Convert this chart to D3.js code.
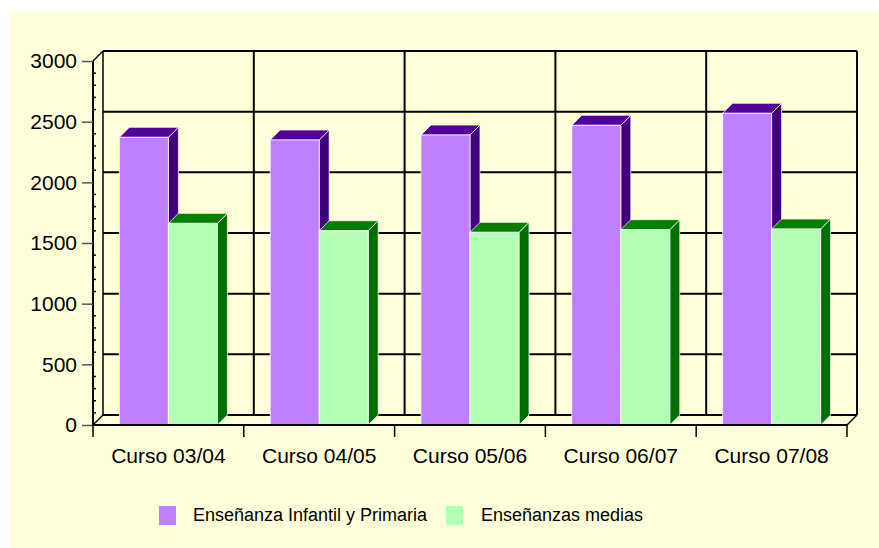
<!DOCTYPE html>
<html>
<head>
<meta charset="utf-8">
<script src="https://cdn.jsdelivr.net/npm/d3@7/dist/d3.min.js"></script>
<style>
  html, body { margin: 0; padding: 0; background: #ffffff; }
  svg { display: block; font-family: "Liberation Sans", Arial, sans-serif; }
</style>
</head>
<body>
<svg id="chart" width="879" height="548"></svg>
<script>
// ---- data ----
const categories = ["Curso 03/04", "Curso 04/05", "Curso 05/06", "Curso 06/07", "Curso 07/08"];
const seriesNames = ["Enseñanza Infantil y Primaria", "Enseñanzas medias"];
const infantilPrimaria = [2371, 2349, 2390, 2470, 2569];
const medias = [1662, 1601, 1588, 1610, 1615];
const yTicks = [0, 500, 1000, 1500, 2000, 2500, 3000];

// ---- styling ----
const frontColors = ["#bf7fff", "#b3ffb3"];
const topColors = ["#52009c", "#007f00"];
const sideColors = ["#3f007a", "#006e00"];
const bgColor = "#ffffd9";

const svg = d3.select("#chart");
const W = 879, H = 548;

svg.append("rect").attr("x", 10).attr("y", 12).attr("width", W - 10).attr("height", H - 12).attr("fill", bgColor);

// plot geometry (front plane) and 3D depth offset
const pLeft = 93, pRight = 847, pBottom = 425, pTop = 61;
const dx = 10, dy = -10;

const y = d3.scaleLinear().domain([0, 3000]).range([pBottom, pTop]);
const x0 = d3.scaleBand().domain(categories).range([pLeft, pRight]).paddingInner(0.35).paddingOuter(0.175);
const x1 = d3.scaleBand().domain(seriesNames).range([0, x0.bandwidth()]);
const xEdges = d3.scaleLinear().domain([0, categories.length]).range([pLeft, pRight]);

const g = svg.append("g");

// back wall gridlines
const grid = g.append("g").attr("stroke", "#000").attr("stroke-width", 2);
yTicks.forEach(t => {
  grid.append("line")
    .attr("x1", pLeft + dx).attr("x2", pRight + dx)
    .attr("y1", y(t) + dy).attr("y2", y(t) + dy);
});
d3.range(0, categories.length + 1).forEach(i => {
  grid.append("line")
    .attr("x1", xEdges(i) + dx).attr("x2", xEdges(i) + dx)
    .attr("y1", y(0) + dy).attr("y2", y(3000) + dy)
    .attr("stroke-width", i === 0 ? 1.5 : 2);
});
// left wall / floor edges
const edges = g.append("g").attr("stroke", "#000").attr("stroke-width", 1.5).attr("fill", "none");
edges.append("line").attr("x1", pLeft).attr("y1", y(3000)).attr("x2", pLeft + dx).attr("y2", y(3000) + dy);
edges.append("line").attr("x1", pLeft).attr("y1", y(0)).attr("x2", pLeft + dx).attr("y2", y(0) + dy);
edges.append("line").attr("x1", pRight).attr("y1", y(0)).attr("x2", pRight + dx).attr("y2", y(0) + dy);

// bars
const seriesValues = [infantilPrimaria, medias];
categories.forEach((c, ci) => {
  seriesNames.forEach((s, si) => {
    const v = seriesValues[si][ci];
    const bx = x0(c) + x1(s);
    const bw = x1.bandwidth();
    const by = y(v), b0 = y(0);
    const bar = g.append("g").attr("stroke", "rgba(255,255,255,0.75)").attr("stroke-width", 1);
    // side face
    bar.append("path").attr("fill", sideColors[si])
      .attr("d", `M${bx + bw},${by} L${bx + bw + dx},${by + dy} L${bx + bw + dx},${b0 + dy} L${bx + bw},${b0} Z`);
    // top face
    bar.append("path").attr("fill", topColors[si])
      .attr("d", `M${bx},${by} L${bx + dx},${by + dy} L${bx + bw + dx},${by + dy} L${bx + bw},${by} Z`);
    // front face
    bar.append("rect").attr("fill", frontColors[si])
      .attr("x", bx).attr("y", by).attr("width", bw).attr("height", b0 - by);
  });
});

// front axis lines
const axes = g.append("g").attr("stroke", "#000");
axes.append("line").attr("x1", pLeft).attr("x2", pLeft).attr("y1", y(3000)).attr("y2", y(0)).attr("stroke-width", 2);
axes.append("line").attr("x1", pLeft).attr("x2", pRight).attr("y1", y(0)).attr("y2", y(0)).attr("stroke-width", 2);

// y axis via d3
const yAxis = d3.axisLeft(y).tickValues(yTicks).tickSize(11).tickPadding(5).tickFormat(d3.format("d"));
const ya = g.append("g").attr("transform", `translate(${pLeft},0)`).call(yAxis);
ya.select(".domain").remove();
ya.selectAll(".tick line").attr("stroke", "#555").attr("stroke-width", 1.5);
ya.selectAll(".tick text").attr("font-size", 21).attr("fill", "#000").attr("font-family", "Liberation Sans, Arial, sans-serif");
// minor ticks
const minor = d3.range(0, 3001, 100).filter(v => v % 500 !== 0);
g.append("g").selectAll("line").data(minor).join("line")
  .attr("x1", pLeft).attr("x2", pLeft + 3)
  .attr("y1", d => y(d)).attr("y2", d => y(d))
  .attr("stroke", "#000").attr("stroke-width", 1.5);

// x axis ticks at category boundaries
g.append("g").selectAll("line").data(d3.range(0, categories.length + 1)).join("line")
  .attr("x1", d => xEdges(d)).attr("x2", d => xEdges(d))
  .attr("y1", y(0)).attr("y2", y(0) + 12)
  .attr("stroke", "#000").attr("stroke-width", 1.5);
g.append("g").selectAll("text").data(categories).join("text")
  .attr("x", d => x0(d) + x0.bandwidth() / 2)
  .attr("y", 463)
  .attr("text-anchor", "middle")
  .attr("font-size", 21)
  .text(d => d);

// legend
const legendItems = [
  { name: seriesNames[0], color: frontColors[0], sx: 159, tx: 193 },
  { name: seriesNames[1], color: frontColors[1], sx: 446, tx: 481 }
];
const lg = svg.append("g");
legendItems.forEach(it => {
  lg.append("rect").attr("x", it.sx).attr("y", 506).attr("width", 17).attr("height", 19).attr("fill", it.color);
  lg.append("text").attr("x", it.tx).attr("y", 521).attr("font-size", 18).text(it.name);
});
</script>
</body>
</html>
